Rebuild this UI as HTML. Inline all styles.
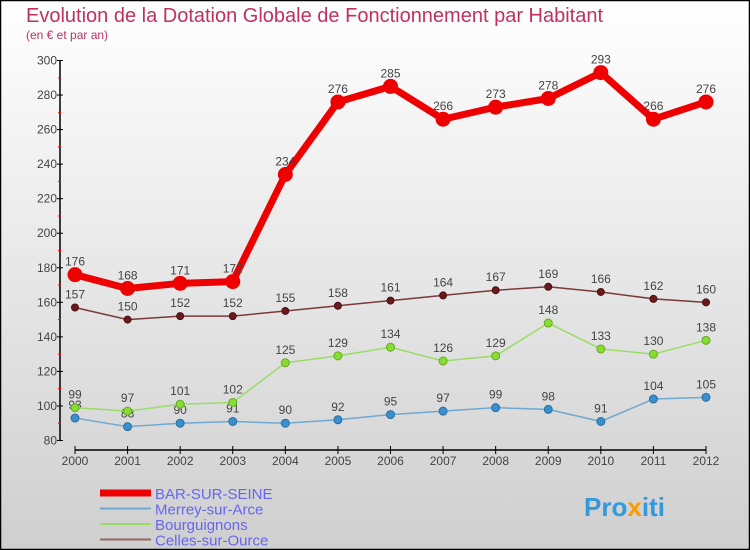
<!DOCTYPE html>
<html><head><meta charset="utf-8"><style>
body{margin:0;width:750px;height:550px;overflow:hidden;font-family:"Liberation Sans",sans-serif}
</style></head><body>
<svg width="750" height="550" xmlns="http://www.w3.org/2000/svg" style="display:block">
<defs><linearGradient id="bg" x1="0" y1="0" x2="0" y2="1"><stop offset="0" stop-color="#ffffff"/><stop offset="1" stop-color="#cfcfcf"/></linearGradient></defs>
<rect x="0.5" y="0.5" width="749" height="549" fill="url(#bg)" stroke="#000" stroke-width="1.5"/>
<text x="26" y="22" font-size="20" fill="#c03060">Evolution de la Dotation Globale de Fonctionnement par Habitant</text>
<text x="26" y="39" font-size="12" fill="#c03060">(en € et par an)</text>
<g id="axes"></g>
<g id="series"></g>
<g id="legend"></g>
<text x="584" y="516" font-size="26" font-weight="bold" fill="#3399dd">Pro<tspan fill="#ff9900">x</tspan><tspan fill="#3399dd">iti</tspan></text>
</svg>
<script>
const years=[2000,2001,2002,2003,2004,2005,2006,2007,2008,2009,2010,2011,2012];
const barSurSeine=[176,168,171,172,234,276,285,266,273,278,293,266,276];
const merrey=[93,88,90,91,90,92,95,97,99,98,91,104,105];
const bourguignons=[99,97,101,102,125,129,134,126,129,148,133,130,138];
const celles=[157,150,152,152,155,158,161,164,167,169,166,162,160];
const yTicks=[80,100,120,140,160,180,200,220,240,260,280,300];
const NS="http://www.w3.org/2000/svg";
const X=i=>75+i*(706-75)/(years.length-1);
const Y=v=>440.5-(v-80)*(380/220);
function mk(t,a,p){const e=document.createElementNS(NS,t);for(const k in a)e.setAttribute(k,a[k]);p.appendChild(e);return e;}
const ax=document.getElementById('axes');
let l=mk('line',{x1:60,y1:Y(300),x2:60,y2:Y(80),stroke:'#000','stroke-width':1.5},ax);


yTicks.forEach((v,i)=>{
 const t=mk('line',{x1:57,y1:Y(v),x2:63,y2:Y(v),stroke:'#000'},ax);
 
 
 const tx=mk('text',{x:57,y:Y(v)+4,'font-size':12,'text-anchor':'end',fill:'#444'},ax);
 tx.textContent=v;
 
 
 if(i<yTicks.length-1){const m=mk('line',{x1:58,y1:Y(v+10),x2:61,y2:Y(v+10),stroke:'#f00'},ax);
 
 }
});
l=mk('line',{x1:X(0),y1:450,x2:X(years.length-1),y2:450,stroke:'#000','stroke-width':1.5},ax);


years.forEach((y,i)=>{
 const t=mk('line',{x1:X(i),y1:446,x2:X(i),y2:454,stroke:'#000'},ax);
 
 
 const tx=mk('text',{x:X(i),y:465,'font-size':12,'text-anchor':'middle',fill:'#444'},ax);
 tx.textContent=y;
 
 
});
const sg=document.getElementById('series');
function series(name,data,color,w,r,dot,stroke){
 const g=mk('g',{},sg);
 
 
 const p=mk('polyline',{points:data.map((v,i)=>X(i)+','+Y(v)).join(' '),fill:'none',stroke:color,'stroke-width':w,'stroke-linejoin':'round'},g);
 
 
 data.forEach((v,i)=>{
  const c=mk('circle',{cx:X(i),cy:Y(v),r:r,fill:dot,stroke:stroke,'stroke-width':1},g);
  
  
  const t=mk('text',{x:X(i),y:Y(v)-9,'font-size':12,'text-anchor':'middle',fill:'#444'},g);
  t.textContent=v;
  
  
 });
}
series('merrey',merrey,'#6fa8d0',1.5,4,'#3a8fcf','#2a6fa0');
series('bourguignons',bourguignons,'#99dd66',1.5,4,'#88dd33','#66aa22');
series('celles',celles,'#7a3a3a',1.5,3.5,'#6a1a1a','#4a1010');
series('bar-sur-seine',barSurSeine,'#ee0000',7,7,'#ee0000','#ee0000');
const lg=document.getElementById('legend');
[['BAR-SUR-SEINE','#ee0000',7],['Merrey-sur-Arce','#6fa8d0',2],['Bourguignons','#99dd66',2],['Celles-sur-Ource','#996666',2]].forEach((d,i)=>{
 const y=493+i*15.5;
 const ln=mk('line',{x1:100,y1:y,x2:151,y2:y,stroke:d[1],'stroke-width':d[2]},lg);
 
 
 const t=mk('text',{x:155,y:y+6,'font-size':15,fill:'#6666ee'},lg);
 t.textContent=d[0];
 
 
});
</script>
</body></html>
